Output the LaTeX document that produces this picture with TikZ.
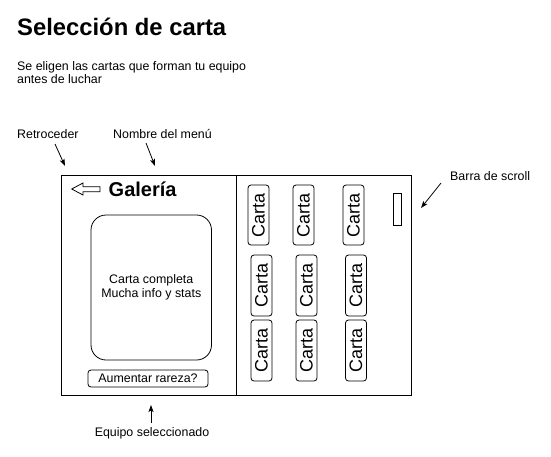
\documentclass[tikz,border=0pt]{standalone}
\usepackage{fontspec}
\setmainfont{Liberation Sans}
\usetikzlibrary{arrows.meta}
\tikzset{
  lbl/.style={inner sep=0pt, font=\fontsize{12.4}{14.2}\selectfont, align=center},
  panel/.style={draw=black, line width=1pt, inner sep=0pt},
  cardbox/.style={draw=black, line width=0.8pt, rounded corners=3pt, minimum width=21pt, inner sep=0pt, font=\fontsize{18}{20}\selectfont},
  pointer/.style={draw=black, line width=0.8pt, -{Stealth[length=7pt,width=5pt,inset=1.5pt]}},
}
\begin{document}
\begin{tikzpicture}[x=1pt,y=-1pt]
\useasboundingbox (0,0) rectangle (551,456);
% title and description
\node[anchor=base west, inner sep=0pt, font=\fontsize{23.8}{26}\selectfont\bfseries] (title) at (17,35.5) {Selección de carta};
\node[anchor=base west, inner sep=0pt, font=\fontsize{12.4}{12.8}\selectfont, align=left] (desc) at (17,83.5) {Se eligen las cartas que forman tu equipo\\antes de luchar};
% panels
\node[panel, minimum width=175pt, minimum height=220pt] (left) at (148.5,285) {};
\node[panel, minimum width=175pt, minimum height=220pt] (right) at (323.5,285) {};
% back arrow
\draw[line width=0.8pt] (71.7,189) -- (83,183) -- (83,186.7) -- (100,186.7) -- (100,191.7) -- (83,191.7) -- (83,195) -- cycle;
\node[anchor=west, inner sep=0pt, font=\fontsize{20}{22}\selectfont\bfseries] (gal) at (108.5,189) {Galería};
% big card
\node[draw=black, line width=0.8pt, rounded corners=15pt, minimum width=120.5pt, minimum height=145pt, inner sep=0pt] (big) at (151.25,287.5) {};
\node[lbl] (bigtxt) at (151.25,287.5) {Carta completa\\Mucha info y stats};
\node[draw=black, line width=0.8pt, rounded corners=3pt, minimum width=120pt, minimum height=17pt, inner sep=0pt, font=\fontsize{12.4}{14}\selectfont] (btn) at (148,378.5) {Aumentar rareza?};
% cards
\node[cardbox, minimum height=60pt] (c11) at (258.5,215) {\rotatebox{90}{Carta}};
\node[cardbox, minimum height=60pt] (c12) at (303.5,215) {\rotatebox{90}{Carta}};
\node[cardbox, minimum height=60pt] (c13) at (353.5,215) {\rotatebox{90}{Carta}};
\node[cardbox, minimum height=61pt] (c21) at (261.5,285.5) {\rotatebox{90}{Carta}};
\node[cardbox, minimum height=61pt] (c22) at (306.5,285.5) {\rotatebox{90}{Carta}};
\node[cardbox, minimum height=61pt] (c23) at (356,285.5) {\rotatebox{90}{Carta}};
\node[cardbox, minimum height=61pt] (c31) at (261.5,350.5) {\rotatebox{90}{Carta}};
\node[cardbox, minimum height=61pt] (c32) at (306.5,350.5) {\rotatebox{90}{Carta}};
\node[cardbox, minimum height=61pt] (c33) at (356,350.5) {\rotatebox{90}{Carta}};
% scroll bar
\node[draw=black, line width=0.8pt, minimum width=8pt, minimum height=32pt, inner sep=0pt] (scroll) at (397,209) {};
% annotations
\node[lbl, anchor=west] (retro) at (17,134) {Retroceder};
\node[lbl, anchor=west] (nombre) at (113,134) {Nombre del menú};
\node[lbl, anchor=west] (barra) at (450,176) {Barra de scroll};
\node[lbl] (equipo) at (152,433) {Equipo seleccionado};
\coordinate (r1) at (55,144);
\coordinate (r2) at (65,166);
\coordinate (n1) at (146,143);
\coordinate (n2) at (155,166);
\coordinate (b1) at (441,183);
\coordinate (b2) at (421,208);
\coordinate (e1) at (151,423);
\coordinate (e2) at (151,405);
\draw[pointer] (r1) -- (r2);
\draw[pointer] (n1) -- (n2);
\draw[pointer] (b1) -- (b2);
\draw[pointer] (e1) -- (e2);
\end{tikzpicture}
\end{document}
